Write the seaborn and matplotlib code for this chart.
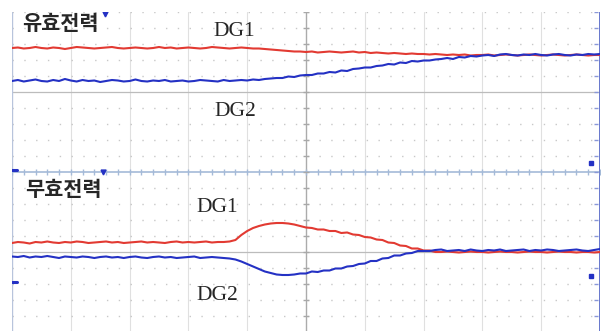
import numpy as np
import matplotlib
matplotlib.use("Agg")
import matplotlib.pyplot as plt
import seaborn as sns

# time base in screen divisions (10 across), one sample every 0.1 div
t = np.round(np.arange(0, 10.01, 0.1), 2)

# active power traces (screen units, 0 = centre line)
p_dg1 = [124, 124.5, 123.5, 124, 125, 124, 123.5, 124.5, 124, 123,
         124, 125, 124.5, 124, 123.5, 124, 124.5, 125, 124, 123.5,
         124, 124.5, 124, 123.5, 124, 125, 124, 124.5, 123.5, 124,
         124.5, 124, 123.5, 124, 125, 124.5, 124, 123.5, 124, 124.5,
         124, 123.5, 123.5, 123, 122.5, 122, 121.5, 121, 120.5, 120.5,
         120, 120.5, 119.5, 120, 120.5, 120, 119.5, 120, 120.5, 119.5,
         120, 119, 119.5, 119, 118.5, 119, 118.5, 118, 118.5, 118,
         118, 117.5, 118, 117.5, 117, 117.5, 117, 117.5, 116.5, 117,
         117, 117.5, 116.5, 117, 117.5, 117, 116.5, 117, 117.5, 117,
         116.5, 117, 117.5, 117, 116.5, 117, 117.5, 117, 116.5, 117, 117]
p_dg2 = [91, 92, 90.5, 91.5, 92.5, 91, 90.5, 92, 91, 93,
         91.5, 90.5, 92, 91, 91.5, 90, 91, 92, 91.5, 90.5,
         91, 92.5, 91, 90.5, 91.5, 91, 92, 90.5, 91, 91.5,
         90.5, 91, 92, 91.5, 91, 90.5, 92, 91, 91.5, 92,
         91.5, 92.5, 92, 93, 93.5, 94, 94, 95.5, 95, 96.5,
         97, 97, 98.5, 98.5, 100, 99.5, 101.5, 101, 103, 103.5,
         104.5, 104.5, 106, 106.5, 108, 107.5, 109.5, 109, 111, 110.5,
         111.5, 111.5, 112.5, 113, 114, 113, 115, 114.5, 116, 115.5,
         116.5, 117, 116, 117.5, 118, 117, 116.5, 117.5, 117, 118,
         117, 116.5, 117.5, 118, 117, 116.5, 117.5, 117, 118, 117.5, 118]

# reactive power traces
q_dg1 = [-71, -70, -70.5, -71.5, -70, -70.5, -69.5, -70.5, -71, -70,
         -70.5, -69.5, -70, -71, -70.5, -70, -69.5, -70.5, -70, -71,
         -70.5, -70, -69.5, -70.5, -70, -70.5, -71, -70, -69.5, -70.5,
         -70, -70.5, -70, -69.5, -70.5, -70, -70, -69.5, -68, -63,
         -59, -56, -54, -52.5, -51.5, -51, -51, -51.5, -52.5, -54,
         -55.5, -56, -57.5, -57.5, -59, -59, -61, -60.5, -62.5, -63,
         -65, -65.5, -67.5, -68, -70.5, -71, -73.5, -74, -76.5, -76.5,
         -78.5, -78.5, -80, -80, -79.5, -80, -80.5, -80, -79.5, -80,
         -80, -80.5, -80, -79.5, -80, -80, -80.5, -80, -79.5, -80,
         -80, -80.5, -80, -79.5, -80, -80, -80.5, -80, -80, -80.5, -80]
q_dg2 = [-84.5, -85, -84, -85.5, -84.5, -85, -84, -85, -86, -84.5,
         -85, -85.5, -84.5, -85, -86, -85, -84.5, -85.5, -85, -86,
         -85, -84.5, -85.5, -86, -85, -84.5, -85.5, -85, -86, -85.5,
         -85, -84.5, -86, -85.5, -85, -85.5, -86, -86.5, -87.5, -89.5,
         -92, -94.5, -97, -99.5, -101, -102.5, -103, -103, -102.5, -101.5,
         -101.5, -99.5, -100, -98.5, -98.5, -96.5, -96.5, -94.5, -94, -92,
         -91.5, -89, -89, -86.5, -86, -83.5, -83.5, -81.5, -81, -79,
         -79, -79, -78, -77.5, -79, -78.5, -78, -79, -77.5, -78.5,
         -79, -78, -78.5, -77.5, -79, -78.5, -78, -77.5, -79, -78,
         -78.5, -77.5, -78, -79, -78.5, -78, -77.5, -78.5, -79, -78, -77]

panel_labels = ['유효전력', '무효전력']
trace_labels = ['DG1', 'DG2']

RED = '#e23a32'
BLUE = '#2431c4'

sns.set_style('white')
plt.rcParams['font.family'] = ['Noto Sans CJK KR', 'DejaVu Sans']

fig = plt.figure(figsize=(6.06, 3.31), dpi=100)
ax = fig.add_axes([12 / 606, -1 / 331, 588 / 606, 320 / 331])
ax.set_xlim(0, 10)
ax.set_ylim(-160, 160)
ax.axis('off')

# scope graticule
for xv in range(1, 10):
    if xv == 5:
        continue
    ax.axvline(xv, color='#e0e0e0', lw=0.8, zorder=0)
for yv in range(-160, 161, 16):
    if yv in (-80, 0, 80):
        continue
    ax.axhline(yv, color='#c8c8c8', lw=1.0, ls=(0, (1, 7.5)), zorder=0)
ax.axhline(80, color='#bcbcbc', lw=0.9, zorder=0)
ax.axhline(-80, color='#bcbcbc', lw=0.9, zorder=0)
ax.axhline(0, color='#a4bad8', lw=1.2, zorder=0)
ax.axvline(5, color='#ababab', lw=1.0, zorder=0)
ax.axvline(0, color='#b8c4dc', lw=1.0, zorder=0)
ax.axvline(10, color='#5a6cc8', lw=1.3, zorder=0)
minor_x = np.arange(0, 10.01, 0.2)
minor_y = np.arange(-160, 161, 16)
ax.plot(minor_x, np.zeros_like(minor_x), ls='none', marker='|', ms=4,
        color='#a4bad8', zorder=0)
ax.plot(np.full_like(minor_y, 5.0, dtype=float), minor_y, ls='none',
        marker='_', ms=4, color='#a8a8a8', zorder=0)
ax.plot(np.full_like(minor_y, 9.93, dtype=float), minor_y, ls='none',
        marker='_', ms=3, color='#8a98d8', zorder=0)

# channel markers
ax.plot([0, 0.08], [2, 2], color=BLUE, lw=2.2)
ax.plot([0, 0.08], [-110, -110], color=BLUE, lw=2.2)
ax.plot([9.84], [9], marker='s', ms=2.5, color=BLUE)
ax.plot([9.84], [-104], marker='s', ms=2.5, color=BLUE)
ax.plot([1.58], [158], marker='v', ms=3.5, color=BLUE)
ax.plot([1.54], [0], marker='v', ms=3.5, color=BLUE)

# traces
sns.lineplot(x=t, y=p_dg1, color=RED, lw=1.5, ax=ax)
sns.lineplot(x=t, y=p_dg2, color=BLUE, lw=1.5, ax=ax)
sns.lineplot(x=t, y=q_dg1, color=RED, lw=1.5, ax=ax)
sns.lineplot(x=t, y=q_dg2, color=BLUE, lw=1.5, ax=ax)

kfont = ['Noto Sans CJK KR', 'DejaVu Sans']
sfont = ['Liberation Serif', 'DejaVu Serif']
ax.text(0.17, 148, panel_labels[0], fontsize=15, fontweight='bold',
        family=kfont, ha='left', va='center')
ax.text(0.22, -18, panel_labels[1], fontsize=15, fontweight='bold',
        family=kfont, ha='left', va='center')
ax.text(3.78, 141, trace_labels[0], fontsize=15.5, family=sfont,
        ha='center', va='center')
ax.text(3.79, 61, trace_labels[1], fontsize=15.5, family=sfont,
        ha='center', va='center')
ax.text(3.49, -35, trace_labels[0], fontsize=15.5, family=sfont,
        ha='center', va='center')
ax.text(3.50, -124, trace_labels[1], fontsize=15.5, family=sfont,
        ha='center', va='center')

fig.savefig('out.png', dpi=100)
